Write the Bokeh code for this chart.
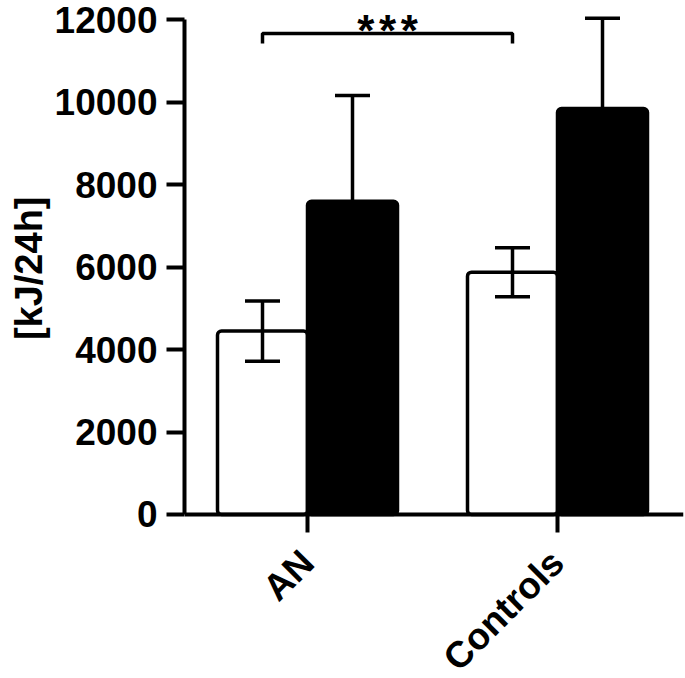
import numpy as np
from bokeh.plotting import figure
from bokeh.models import Range1d, FixedTicker, Span, Title
from bokeh.core.properties import value
from bokeh.embed import file_html
from bokeh.resources import INLINE

# ---- data ----
categories = ["AN", "Controls"]
white_means = [4450, 5880]
white_errors = [730, 595]
black_means = [7600, 9850]
black_errors = [2570, 2190]
y_ticks = [0, 2000, 4000, 6000, 8000, 10000, 12000]
y_label = "[kJ/24h]"
significance = "*"

FONT = "Liberation Sans"
LW = 3.5
H = 678
Y0, Y1 = -3980, 12473
px = (Y1 - Y0) / H   # data units per pixel

p = figure(width=685, height=H, output_backend="svg", toolbar_location=None,
           x_range=Range1d(0.508, 2.504), y_range=Range1d(Y0, Y1),
           x_axis_location=None,
           min_border_left=184, min_border_right=2, min_border_top=0,
           min_border_bottom=0)
p.outline_line_color = None
p.xgrid.grid_line_color = None
p.ygrid.grid_line_color = None
p.background_fill_color = "white"
p.border_fill_color = "white"

xs = [i + 1 for i in range(len(categories))]
bar_w = 0.36
wx = [x - bar_w / 2 for x in xs]
bx = [x + bar_w / 2 for x in xs]
cap = 0.07

p.vbar(x=wx, top=white_means, bottom=0, width=bar_w, fill_color="white",
       line_color="black", line_width=LW, border_radius=4)
p.vbar(x=bx, top=black_means, bottom=0, width=bar_w, fill_color="black",
       line_color="black", line_width=LW, border_radius=4)

# white error bars (both sides)
w_lo = [m - e for m, e in zip(white_means, white_errors)]
w_hi = [m + e for m, e in zip(white_means, white_errors)]
p.segment(x0=wx, y0=w_lo, x1=wx, y1=w_hi, line_color="black", line_width=LW)
p.segment(x0=[x - cap for x in wx], y0=w_hi, x1=[x + cap for x in wx], y1=w_hi,
          line_color="black", line_width=LW)
p.segment(x0=[x - cap for x in wx], y0=w_lo, x1=[x + cap for x in wx], y1=w_lo,
          line_color="black", line_width=LW)
# black error bars (upper)
b_hi = [m + e for m, e in zip(black_means, black_errors)]
p.segment(x0=bx, y0=black_means, x1=bx, y1=b_hi, line_color="black", line_width=LW)
p.segment(x0=[x - cap for x in bx], y0=b_hi, x1=[x + cap for x in bx], y1=b_hi,
          line_color="black", line_width=LW)

# significance bracket between the white bars
br_top, br_bot = 11672, 11429
p.line(x=[wx[0], wx[0], wx[1], wx[1]], y=[br_bot, br_top, br_top, br_bot],
       line_color="black", line_width=LW)
mid = (wx[0] + wx[1]) / 2
d = 0.087
p.text(x=[mid - d, mid, mid + d], y=[12344] * 3, text=[significance] * 3,
       text_font=value(FONT), text_font_size="44px", text_font_style="bold",
       text_align="center", text_baseline="top", text_color="black")

# x axis: baseline line, ticks and rotated category labels
p.add_layout(Span(location=0, dimension="width", line_color="black",
                  line_width=4))
p.segment(x0=xs, y0=[0] * len(xs), x1=xs, y1=[-18 * px] * len(xs),
          line_color="black", line_width=4)
p.text(x=xs, y=[-42 * px] * len(xs), text=categories, angle=np.pi / 4,
       text_align="right", text_baseline="middle", text_font=value(FONT),
       text_font_style="bold", text_font_size="37px", text_color="black")

ax = p.yaxis[0]
ax.axis_line_width = 4
ax.axis_line_color = "black"
ax.major_tick_line_width = 4
ax.major_tick_line_color = "black"
ax.major_tick_out = 18
ax.major_tick_in = 0
ax.minor_tick_line_color = None
ax.major_label_text_font = FONT
ax.major_label_text_font_style = "bold"
ax.major_label_text_font_size = "37px"
ax.major_label_text_color = "black"
ax.ticker = FixedTicker(ticks=y_ticks)
ax.bounds = (0, 12000)
ax.major_label_standoff = 9

# y-axis title placed along the axis extent (top end near 12000)
p.add_layout(Title(text=y_label, align="right", offset=196,
                   vertical_align="top",
                   text_font=FONT, text_font_style="bold",
                   text_font_size="38px", text_color="black", standoff=0),
             "left")

open("out.html", "w").write(file_html(p, INLINE))
